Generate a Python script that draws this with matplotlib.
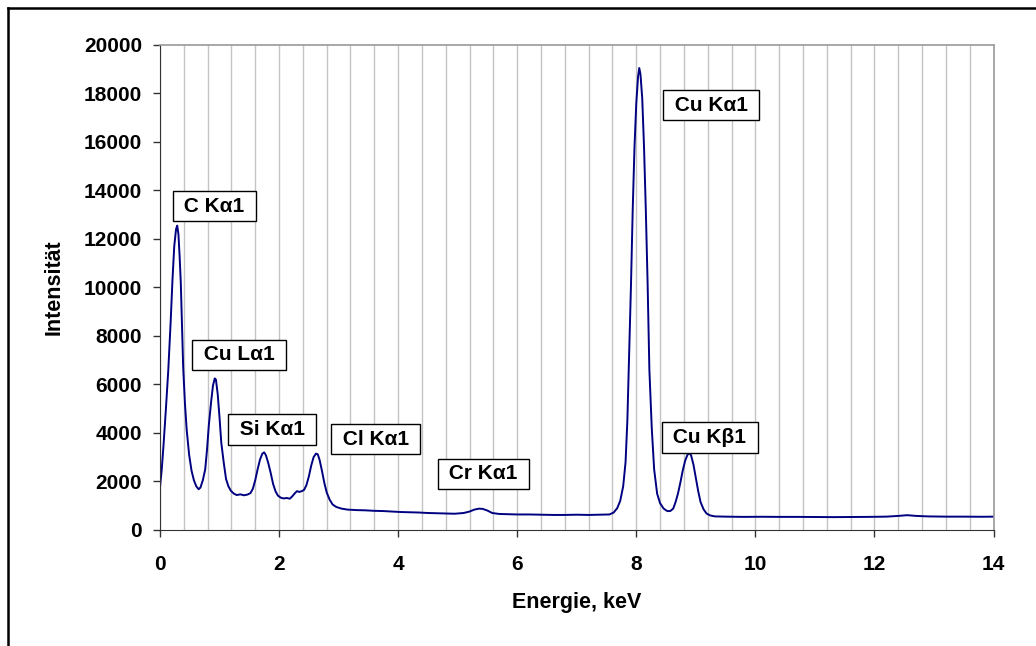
import matplotlib
matplotlib.use("Agg")
import matplotlib.pyplot as plt
from matplotlib.ticker import MultipleLocator
from matplotlib.lines import Line2D

plt.rcParams['font.family'] = ['Liberation Sans', 'DejaVu Sans']
plt.rcParams['font.weight'] = 'bold'

# EDX-Spektrum
energie = [0.00, 0.03, 0.06, 0.10, 0.14, 0.18, 0.21, 0.24, 0.27, 0.29, 0.31, 0.33, 0.35, 0.37, 0.39,
           0.42, 0.45, 0.49, 0.53, 0.57, 0.61, 0.65, 0.68, 0.72, 0.76, 0.79, 0.82, 0.86, 0.89, 0.92,
           0.94, 0.97, 1.00, 1.03, 1.07, 1.11, 1.15, 1.19, 1.24, 1.29, 1.35, 1.41, 1.47, 1.52, 1.56,
           1.60, 1.64, 1.68, 1.72, 1.75, 1.78, 1.82, 1.86, 1.90, 1.94, 1.98, 2.03, 2.08, 2.13, 2.18,
           2.22, 2.26, 2.30, 2.34, 2.38, 2.42, 2.46, 2.50, 2.54, 2.58, 2.62, 2.65, 2.68, 2.72, 2.76,
           2.80, 2.85, 2.90, 2.96, 3.05, 3.15, 3.30, 3.45, 3.60, 3.75, 3.90, 4.05, 4.20, 4.35, 4.50,
           4.65, 4.80, 4.95, 5.10, 5.20, 5.28, 5.36, 5.42, 5.50, 5.58, 5.70, 5.85, 6.00, 6.20, 6.40,
           6.60, 6.80, 7.00, 7.20, 7.40, 7.55, 7.62, 7.68, 7.73, 7.78, 7.82, 7.85, 7.88, 7.91, 7.94,
           7.97, 8.00, 8.03, 8.05, 8.07, 8.10, 8.13, 8.16, 8.19, 8.22, 8.26, 8.30, 8.35, 8.40, 8.46,
           8.52, 8.57, 8.62, 8.66, 8.70, 8.74, 8.78, 8.82, 8.86, 8.89, 8.92, 8.96, 9.00, 9.04, 9.08,
           9.13, 9.18, 9.24, 9.32, 9.50, 9.80, 10.1, 10.4, 10.7, 11.0, 11.3, 11.6, 11.9, 12.2, 12.4,
           12.55, 12.7, 12.9, 13.2, 13.5, 13.8, 14.0]
intensitaet = [1750, 2500, 3500, 5000, 6600, 8600, 10300, 11700, 12400, 12550, 12200, 11300, 10200, 8400, 6700,
               5200, 4100, 3100, 2450, 2050, 1800, 1680, 1750, 2050, 2500, 3300, 4300, 5300, 5950, 6250,
               6200, 5600, 4650, 3600, 2800, 2100, 1800, 1620, 1500, 1440, 1470, 1430, 1460, 1520, 1700,
               2050, 2500, 2900, 3150, 3200, 3080, 2750, 2350, 1900, 1600, 1420, 1330, 1300, 1320, 1290,
               1380, 1500, 1600, 1570, 1600, 1650, 1850, 2200, 2650, 3000, 3150, 3120, 2900, 2450, 1950,
               1550, 1250, 1050, 950, 880, 840, 820, 810, 790, 780, 760, 740, 730, 720, 700,
               690, 680, 670, 700, 760, 840, 880, 870, 800, 700, 660, 650, 640, 640, 630,
               620, 620, 630, 620, 630, 640, 720, 900, 1200, 1800, 2800, 4500, 7200, 10000, 13200,
               15800, 17600, 18700, 19050, 18800, 17800, 15800, 13200, 10200, 6600, 4200, 2500, 1500, 1100, 880,
               780, 780, 880, 1150, 1500, 1950, 2450, 2850, 3100, 3170, 3080, 2700, 2150, 1600, 1150,
               850, 680, 600, 560, 550, 540, 545, 540, 540, 535, 530, 535, 540, 550, 580,
               610, 580, 560, 550, 550, 545, 550]

# Beschriftungen der Linien (Textmitte in Datenkoordinaten)
linien = ['C Kα1', 'Cu Lα1', 'Si Kα1', 'Cl Kα1', 'Cr Kα1', 'Cu Kα1', 'Cu Kβ1']
linien_x = [0.91, 1.33, 1.88, 3.62, 5.43, 9.26, 9.23]
linien_y = [13350, 7220, 4140, 3750, 2320, 17510, 3810]

fig = plt.figure(figsize=(10.36, 6.46), dpi=100)
ax = fig.add_axes([0.1544, 0.1796, 0.8046, 0.7508])

ax.plot(energie, intensitaet, color='#000080', lw=1.4)

ax.set_xlim(0, 14)
ax.set_ylim(0, 20000)
ax.xaxis.set_major_locator(MultipleLocator(2))
ax.xaxis.set_minor_locator(MultipleLocator(0.4))
ax.yaxis.set_major_locator(MultipleLocator(2000))
ax.grid(True, which='both', axis='x', color='#c4c4c4', lw=1)
ax.set_axisbelow(True)
ax.tick_params(axis='x', which='minor', length=0)
ax.tick_params(which='major', direction='out', length=5, width=1, color='#333333',
               labelsize=15, pad=8)
ax.tick_params(axis='x', which='major', pad=13)

for s in ['left', 'bottom']:
    ax.spines[s].set_color('#333333')
for s in ['top', 'right']:
    ax.spines[s].set_color('#999999')
    ax.spines[s].set_linewidth(1.2)

ax.set_xlabel('Energie, keV', fontsize=15.5, fontweight='bold', labelpad=13)
ax.set_ylabel('Intensität', fontsize=15.5, fontweight='bold', labelpad=14)

for txt, lx, ly in zip(linien, linien_x, linien_y):
    ax.text(lx, ly, ' ' + txt + ' ', ha='center', va='center', fontsize=15, fontweight='bold',
            bbox=dict(boxstyle='square,pad=0.27', fc='white', ec='black', lw=1))

# äußerer Rahmen (nur links und oben sichtbar)
fig.add_artist(Line2D([8 / 1036, 8 / 1036], [-0.05, 1 - 8 / 646], color='black', lw=1.8))
fig.add_artist(Line2D([8 / 1036, 1.05], [1 - 8 / 646, 1 - 8 / 646], color='black', lw=1.8))

fig.savefig('out.png', dpi=100)
